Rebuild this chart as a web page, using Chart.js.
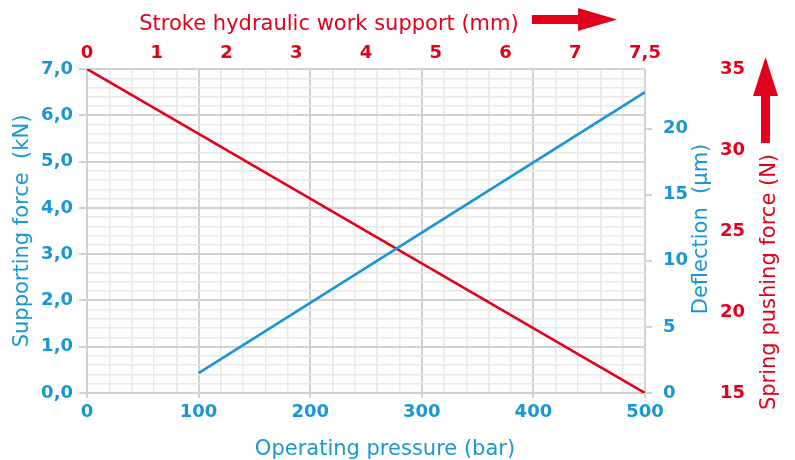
<!DOCTYPE html>
<html>
<head>
<meta charset="utf-8">
<script src="https://cdn.jsdelivr.net/npm/chart.js@4"></script>
<style>
  html, body { margin: 0; padding: 0; background: #fff; }
</style>
</head>
<body>
<canvas id="chart" width="795" height="460"></canvas>
<script>
// values
const strokeLabels = ["0", "1", "2", "3", "4", "5", "6", "7", "7,5"];
const supportPressure = [100, 500];   // bar
const supportForce = [0.43, 6.5];     // kN
const springPressure = [0, 500];      // bar
const springForce = [35, 15];         // N

const BLUE = "#1997d4";
const RED = "#e3001b";
const MAJOR = "#d2d2d2";
const MINOR = "#e8e8e8";
const FONT = "DejaVu Sans";

const tickFont = { family: FONT, size: 18, weight: "bold" };

function isWhole(v, step) {
  return Math.abs(v / step - Math.round(v / step)) < 1e-6;
}

function fixWidth(w) {
  return scale => { scale.width = w; };
}
function fixHeight(h) {
  return scale => { scale.height = h; };
}

const titles = {
  id: "titles",
  afterDraw(chart) {
    const ctx = chart.ctx;
    ctx.save();
    ctx.font = "21px '" + FONT + "'";

    // top title + arrow
    ctx.fillStyle = RED;
    ctx.textAlign = "center";
    ctx.textBaseline = "alphabetic";
    ctx.fillText("Stroke hydraulic work support (mm)", 329, 30);
    ctx.fillRect(532, 15, 46, 9);
    ctx.beginPath();
    ctx.moveTo(578, 8);
    ctx.lineTo(617, 19.5);
    ctx.lineTo(578, 31);
    ctx.closePath();
    ctx.fill();

    // bottom title
    ctx.fillStyle = BLUE;
    ctx.fillText("Operating pressure (bar)", 385, 455);

    // right titles, read bottom to top
    ctx.textBaseline = "middle";
    ctx.save();
    ctx.translate(702, 229);
    ctx.rotate(-Math.PI / 2);
    ctx.fillText("Deflection  (µm)", 0, 0);
    ctx.restore();

    ctx.fillStyle = RED;
    ctx.save();
    ctx.translate(770, 282);
    ctx.rotate(-Math.PI / 2);
    ctx.fillText("Spring pushing force (N)", 0, 0);
    ctx.restore();

    // up arrow
    ctx.fillRect(761, 95, 9, 48);
    ctx.beginPath();
    ctx.moveTo(753, 96);
    ctx.lineTo(765.5, 57);
    ctx.lineTo(778, 96);
    ctx.closePath();
    ctx.fill();

    ctx.restore();
  }
};

new Chart(document.getElementById("chart"), {
  type: "line",
  data: {
    datasets: [
      {
        label: "Supporting force",
        data: supportPressure.map((p, i) => ({ x: p, y: supportForce[i] })),
        borderColor: BLUE,
        borderWidth: 2.6,
        pointRadius: 0,
        xAxisID: "x",
        yAxisID: "y"
      },
      {
        label: "Spring pushing force",
        data: springPressure.map((p, i) => ({ x: p, y: springForce[i] })),
        borderColor: RED,
        borderWidth: 2.6,
        pointRadius: 0,
        xAxisID: "x",
        yAxisID: "ySpring"
      }
    ]
  },
  options: {
    responsive: false,
    devicePixelRatio: 1,
    animation: false,
    layout: { padding: 0 },
    plugins: {
      legend: { display: false },
      tooltip: { enabled: false }
    },
    scales: {
      x: {
        type: "linear",
        position: "bottom",
        min: 0,
        max: 500,
        afterFit: fixHeight(67),
        ticks: {
          stepSize: 20,
          autoSkip: false,
          maxRotation: 0,
          padding: 4,
          color: BLUE,
          font: tickFont,
          callback: v => (isWhole(v, 100) ? v : "")
        },
        grid: {
          color: c => (isWhole(c.tick.value, 100) ? MAJOR : MINOR),
          lineWidth: c => (isWhole(c.tick.value, 100) ? 2 : 1.5),
          tickColor: c => (isWhole(c.tick.value, 100) ? MAJOR : "transparent"),
          tickLength: 5
        },
        border: { color: MAJOR, width: 2 }
      },
      xStroke: {
        type: "category",
        position: "top",
        labels: strokeLabels,
        offset: false,
        afterFit: fixHeight(69),
        ticks: {
          autoSkip: false,
          maxRotation: 0,
          padding: 5,
          color: RED,
          font: tickFont
        },
        grid: { display: false, drawTicks: false },
        border: { display: false }
      },
      y: {
        position: "left",
        min: 0,
        max: 7,
        afterFit: fixWidth(87),
        ticks: {
          stepSize: 0.2,
          autoSkip: false,
          padding: 6,
          color: BLUE,
          font: tickFont,
          callback: v => (isWhole(v, 1) ? v.toFixed(1).replace(".", ",") : "")
        },
        grid: {
          color: c => (isWhole(c.tick.value, 1) ? MAJOR : MINOR),
          lineWidth: c => (isWhole(c.tick.value, 1) ? 2 : 1.5),
          tickColor: c => (isWhole(c.tick.value, 1) ? MAJOR : "transparent"),
          tickLength: 8
        },
        border: { color: MAJOR, width: 2 },
        title: {
          display: true,
          text: "Supporting force  (kN)",
          color: BLUE,
          font: { family: FONT, size: 21 },
          padding: { top: 10, bottom: 0 }
        }
      },
      yDefl: {
        position: "right",
        weight: 0,
        min: 0,
        max: 24.5,
        afterFit: fixWidth(68),
        afterBuildTicks: s => { s.ticks = s.ticks.filter(t => isWhole(t.value, 5)); },
        ticks: {
          stepSize: 5,
          padding: 11,
          color: BLUE,
          font: tickFont
        },
        grid: {
          drawOnChartArea: false,
          tickColor: MAJOR,
          tickLength: 7,
          lineWidth: 2
        },
        border: { display: false }
      },
      ySpring: {
        position: "right",
        weight: 1,
        min: 15,
        max: 35,
        afterFit: fixWidth(82),
        ticks: {
          stepSize: 5,
          padding: 7,
          color: RED,
          font: tickFont
        },
        grid: { display: false, drawTicks: false },
        border: { display: false }
      }
    }
  },
  plugins: [titles]
});
</script>
</body>
</html>
